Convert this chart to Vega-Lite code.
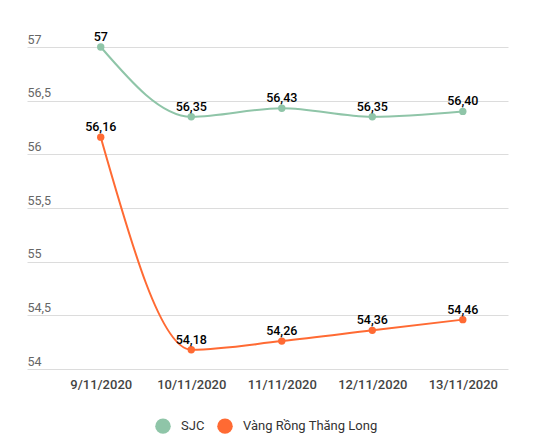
{
  "$schema": "https://vega.github.io/schema/vega-lite/v6.json",
  "width": 481,
  "height": 322,
  "autosize": "none",
  "padding": {"left": 27, "top": 47, "right": 31, "bottom": 75},
  "config": {"font": "Roboto", "view": {"stroke": null}},
  "data": {
    "values": [
      {"date": "9/11/2020", "series": "SJC", "value": 57, "label": "57"},
      {"date": "10/11/2020", "series": "SJC", "value": 56.35, "label": "56,35"},
      {"date": "11/11/2020", "series": "SJC", "value": 56.43, "label": "56,43"},
      {"date": "12/11/2020", "series": "SJC", "value": 56.35, "label": "56,35"},
      {"date": "13/11/2020", "series": "SJC", "value": 56.40, "label": "56,40"},
      {"date": "9/11/2020", "series": "Vàng Rồng Thăng Long", "value": 56.16, "label": "56,16"},
      {"date": "10/11/2020", "series": "Vàng Rồng Thăng Long", "value": 54.18, "label": "54,18"},
      {"date": "11/11/2020", "series": "Vàng Rồng Thăng Long", "value": 54.26, "label": "54,26"},
      {"date": "12/11/2020", "series": "Vàng Rồng Thăng Long", "value": 54.36, "label": "54,36"},
      {"date": "13/11/2020", "series": "Vàng Rồng Thăng Long", "value": 54.46, "label": "54,46"}
    ]
  },
  "encoding": {
    "x": {
      "field": "date", "type": "ordinal", "sort": null,
      "scale": {"type": "point", "padding": 0.657, "align": 0.62},
      "axis": {"title": null, "domain": false, "ticks": false, "grid": false, "labelAngle": 0,
               "labelFontSize": 13, "labelColor": "#444", "labelFontWeight": 500, "labelPadding": 9}
    },
    "y": {
      "field": "value", "type": "quantitative",
      "scale": {"domain": [54, 57], "zero": false, "nice": false},
      "axis": {"title": null, "domain": false, "ticks": false, "tickSize": 0,
               "values": [54, 54.5, 55, 55.5, 56, 56.5, 57],
               "format": ".1~f",
               "labelExpr": "replace(datum.label, '.', ',')",
               "labelAlign": "left", "labelBaseline": "alphabetic", "labelOffset": -4, "labelPadding": 0,
               "labelFontSize": 12.5, "labelColor": "#666",
               "grid": true, "gridColor": "#dcdcdc", "gridWidth": 1}
    },
    "color": {
      "field": "series", "type": "nominal",
      "scale": {"domain": ["SJC", "Vàng Rồng Thăng Long"], "range": ["#8fc5a8", "#ff6a33"]},
      "legend": {"title": null, "orient": "none", "direction": "horizontal", "legendX": 128, "legendY": 371,
                 "symbolType": "circle", "symbolSize": 240, "symbolStrokeWidth": 0,
                 "labelFontSize": 13, "labelColor": "#333", "labelOffset": 10, "columnPadding": 12}
    }
  },
  "layer": [
    {"mark": {"type": "line", "interpolate": "monotone", "strokeWidth": 2}},
    {"mark": {"type": "point", "filled": true, "size": 55, "opacity": 1}},
    {
      "mark": {"type": "text", "dy": -6, "baseline": "alphabetic", "fontSize": 12.5, "fontWeight": 500},
      "encoding": {"text": {"field": "label"}, "color": {"value": "#000"}}
    }
  ]
}
